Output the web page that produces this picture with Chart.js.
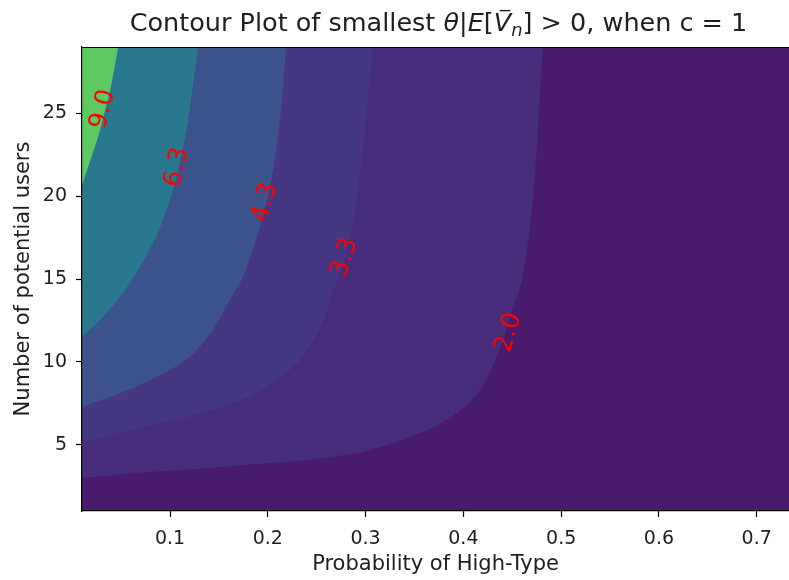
<!DOCTYPE html>
<html>
<head>
<meta charset="utf-8">
<script src="https://cdn.jsdelivr.net/npm/chart.js@4.4.1/dist/chart.umd.min.js"></script>
<style>
  html, body { margin: 0; padding: 0; background: #ffffff; }
  canvas { display: block; }
</style>
</head>
<body>
<canvas id="chart" width="789" height="580"></canvas>
<script>
// Contour boundaries of the smallest theta: [probability of high-type, number of users]
const boundary9_0 = [[0.01, 20.65], [0.0254, 23.37], [0.0284, 23.97], [0.0387, 26.39], [0.0468, 28.93]];
const boundary6_3 = [[0.01, 11.50], [0.0284, 12.53], [0.0489, 13.91], [0.0693, 15.72], [0.0898, 18.08],
                     [0.1051, 20.79], [0.1174, 24.17], [0.1286, 28.94]];
const boundary4_3 = [[0.01, 7.28], [0.0417, 7.94], [0.0765, 8.78], [0.1102, 9.87], [0.1276, 10.72],
                     [0.144, 11.92], [0.1613, 13.73], [0.1746, 15.12], [0.192, 18.14], [0.2023, 20.55],
                     [0.2125, 24.60], [0.2186, 28.94]];
const boundary3_3 = [[0.01, 5.10], [0.0765, 6.07], [0.144, 7.09], [0.1951, 8.30], [0.2329, 10.11],
                     [0.2534, 12.04], [0.2667, 14.16], [0.2769, 15.85], [0.2841, 17.35], [0.2912, 19.77],
                     [0.2994, 23.99], [0.3076, 28.94]];
const boundary2_0 = [[0.01, 3.0], [0.0693, 3.31], [0.1307, 3.55], [0.192, 3.85], [0.2329, 4.03],
                     [0.2738, 4.34], [0.3014, 4.64], [0.335, 5.24], [0.3688, 6.03], [0.3964, 7.05],
                     [0.4169, 8.26], [0.4302, 9.77], [0.4404, 11.28], [0.4496, 13.1], [0.4598, 14.9],
                     [0.4711, 19.74], [0.4813, 28.93]];

// Levels, innermost first, and the band colour left of each boundary
const contourLevels = [9.0, 6.3, 4.3, 3.3, 2.0];
const boundaries = [boundary9_0, boundary6_3, boundary4_3, boundary3_3, boundary2_0];
const bandColors = ['#5ec962', '#2a788e', '#3b528b', '#453781', '#472d7b'];
const baseColor = '#481b6d';

// Inline level labels: anchor in data units and rotation in degrees
const labelProb = [0.0315, 0.1072, 0.1971, 0.2789, 0.4465];
const labelUsers = [25.24, 21.74, 19.62, 16.30, 11.77];
const labelAngle = [-76, -78, -76, -72, -74];

const xTicks = [0.1, 0.2, 0.3, 0.4, 0.5, 0.6, 0.7];
const yTicks = [5, 10, 15, 20, 25];
const xRange = [0.01, 0.733];
const yRange = [1, 29];

const FONT = '"DejaVu Sans", "Liberation Sans", sans-serif';
const INK = '#1e1e1e';

// Close each boundary into a band reaching the top-left corner.
// The ends are continued a little past the axes so the smoothed curve
// keeps its direction at the edges; everything outside is clipped.
function bandPolygon(pts) {
  const n = pts.length;
  const first = pts[0], second = pts[1];
  const last = pts[n - 1], prev = pts[n - 2];
  const before = [2 * first[0] - second[0], 2 * first[1] - second[1]];
  const after = [2 * last[0] - prev[0], 2 * last[1] - prev[1]];
  const poly = [before, ...pts, after].map(p => ({x: p[0], y: p[1]}));
  poly.push({x: after[0], y: 40}, {x: -0.2, y: 40}, {x: -0.2, y: before[1]});
  return poly;
}

const datasets = boundaries.map((b, i) => ({
  label: contourLevels[i].toFixed(1),
  data: bandPolygon(b),
  fill: 'shape',
  backgroundColor: bandColors[i],
  borderWidth: 0,
  pointRadius: 0,
  tension: 0.3,
  capBezierPoints: false
}));

const backgroundPlugin = {
  id: 'lowestBand',
  beforeDatasetsDraw(chart) {
    const {ctx, chartArea: a} = chart;
    ctx.save();
    ctx.fillStyle = baseColor;
    ctx.fillRect(a.left, a.top, a.right - a.left, a.bottom - a.top);
    ctx.restore();
  }
};

const labelPlugin = {
  id: 'levelLabels',
  afterDatasetsDraw(chart) {
    const {ctx, scales: {x, y}} = chart;
    ctx.save();
    ctx.font = '25px ' + FONT;
    ctx.fillStyle = '#ff0000';
    ctx.textAlign = 'center';
    ctx.textBaseline = 'middle';
    contourLevels.forEach((lv, i) => {
      ctx.save();
      ctx.translate(x.getPixelForValue(labelProb[i]), y.getPixelForValue(labelUsers[i]));
      ctx.rotate(labelAngle[i] * Math.PI / 180);
      ctx.fillText(lv.toFixed(1), 0, 0);
      ctx.restore();
    });
    // top spine
    const a = chart.chartArea;
    ctx.strokeStyle = '#000000';
    ctx.lineWidth = 1.2;
    ctx.beginPath();
    ctx.moveTo(a.left, a.top + 0.5);
    ctx.lineTo(a.right, a.top + 0.5);
    ctx.stroke();
    ctx.restore();
  }
};

// Title with math parts: θ|E[V̄_n] > 0
const titlePlugin = {
  id: 'mathTitle',
  afterDraw(chart) {
    const {ctx, chartArea: a} = chart;
    const size = 25.5;
    const normal = size + 'px ' + FONT;
    const italic = 'italic ' + size + 'px ' + FONT;
    const small = 'italic ' + Math.round(size * 0.7) + 'px ' + FONT;
    const parts = [
      {t: 'Contour Plot of smallest ', f: normal},
      {t: 'θ', f: italic},
      {t: '|', f: normal},
      {t: 'E', f: italic},
      {t: '[', f: normal},
      {t: 'V', f: italic, bar: true},
      {t: 'n', f: small, dy: 5},
      {t: ']', f: normal},
      {t: ' > 0', f: normal},
      {t: ', when c = 1', f: normal}
    ];
    ctx.save();
    let total = 0;
    parts.forEach(p => { ctx.font = p.f; p.w = ctx.measureText(p.t).width; total += p.w; });
    let xPos = (a.left + a.right) / 2 + 3 - total / 2;
    const base = 31;
    ctx.fillStyle = INK;
    ctx.textBaseline = 'alphabetic';
    ctx.textAlign = 'left';
    parts.forEach(p => {
      ctx.font = p.f;
      ctx.fillText(p.t, xPos, base + (p.dy || 0));
      if (p.bar) {
        ctx.strokeStyle = INK;
        ctx.lineWidth = 1.4;
        ctx.beginPath();
        ctx.moveTo(xPos + p.w * 0.35, base - size * 0.8);
        ctx.lineTo(xPos + p.w * 0.95, base - size * 0.8);
        ctx.stroke();
      }
      xPos += p.w;
    });
    ctx.restore();
  }
};

new Chart(document.getElementById('chart'), {
  type: 'line',
  data: { datasets },
  options: {
    responsive: false,
    animation: false,
    events: [],
    layout: { padding: { top: 47, right: 0, bottom: 0, left: 0 } },
    plugins: { legend: { display: false }, tooltip: { enabled: false }, title: { display: false } },
    scales: {
      x: {
        type: 'linear',
        min: xRange[0],
        max: xRange[1],
        afterBuildTicks(scale) { scale.ticks = xTicks.map(v => ({value: v})); },
        afterFit(scale) { scale.height = 69; },
        grid: { drawOnChartArea: false, drawTicks: true, tickLength: 6, tickWidth: 1.2, tickColor: '#000000' },
        border: { display: true, color: '#000000', width: 1.2, z: 1 },
        ticks: { color: INK, padding: 11, font: { family: FONT, size: 19 },
                 callback: v => Number(v).toFixed(1) },
        title: { display: true, text: 'Probability of High-Type', color: INK,
                 font: { family: FONT, size: 21 }, padding: { top: 0, bottom: 3 } }
      },
      y: {
        type: 'linear',
        min: yRange[0],
        max: yRange[1],
        afterBuildTicks(scale) { scale.ticks = yTicks.map(v => ({value: v})); },
        afterFit(scale) { scale.width = 82; },
        grid: { drawOnChartArea: false, drawTicks: true, tickLength: 6, tickWidth: 1.2, tickColor: '#000000' },
        border: { display: true, color: '#000000', width: 1.2, z: 1 },
        ticks: { color: INK, padding: 9, font: { family: FONT, size: 19 },
                 callback: v => String(v) },
        title: { display: true, text: 'Number of potential users', color: INK,
                 font: { family: FONT, size: 21 }, padding: { top: 11, bottom: 0 } }
      }
    }
  },
  plugins: [backgroundPlugin, labelPlugin, titlePlugin]
});
</script>
</body>
</html>
